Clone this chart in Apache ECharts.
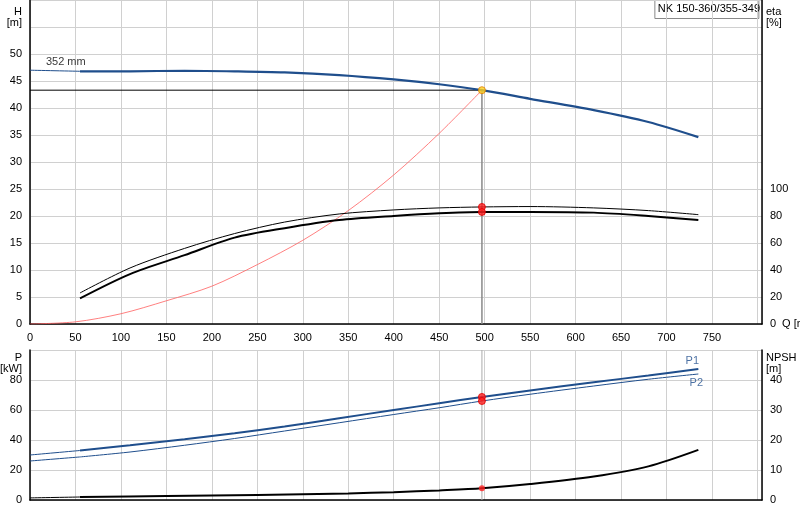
<!DOCTYPE html>
<html><head><meta charset="utf-8">
<script src="https://cdn.jsdelivr.net/npm/echarts@6/dist/echarts.min.js"></script>
<style>html,body{margin:0;background:#fff}#c{width:800px;height:520px}</style></head>
<body><div id="c"></div>
<script>
const hExt = [[0,47],[55,46.8]];
const hCurve = [[55,46.8],[110,46.8],[170,46.9],[225,46.8],[280,46.6],[340,46.1],[400,45.3],[450,44.4],[497,43.3],[550,41.7],[620,39.6],[680,37.4],[735,34.6]];
const etaThin = [[55,23],[110,41.5],[170,56],[225,67],[280,75.5],[340,81.5],[400,84.5],[450,86],[497,86.7],[550,87],[620,86],[680,84],[735,81]];
const etaThick = [[55,19],[110,37],[170,51],[225,64],[280,71],[340,77],[400,80],[450,82],[497,83],[550,83],[620,82.5],[680,80],[735,77]];
const system = [[0,0],[50,0.4],[100,1.9],[150,4.3],[200,7],[250,11],[300,15.5],[350,21],[400,27.6],[450,35.3],[497,43.3]];
const p1Ext = [[0,30],[55,33]];
const p1 = [[55,33],[110,36.5],[170,40.5],[225,44.5],[280,49],[340,54.5],[400,60],[450,64.5],[497,68.7],[550,73],[620,78.5],[680,83],[735,87.3]];
const p2Ext = [[0,26],[55,28.7]];
const p2 = [[55,28.7],[110,32],[170,36.5],[225,41],[280,46],[340,51.5],[400,57],[450,61.5],[497,66],[550,70.5],[620,76],[680,80.5],[735,84]];
const npshExt = [[0,0.7],[55,1.0]];
const npsh = [[55,1.0],[150,1.3],[250,1.7],[350,2.2],[400,2.6],[450,3.2],[497,3.9],[550,5.3],[620,7.8],[680,11.2],[735,16.7]];
const duty = {q:497, h:43.3, eta1:86.7, eta2:83, p1:68.7, p2:66, npsh:3.9};

const F = 'Liberation Sans, Arial, sans-serif';
const blue = '#1f4e8c';
const lab = {fontFamily:F,fontSize:11,color:'#000'};
const split = {show:true,lineStyle:{color:'#d0d0d0',width:1}};
const ax = {lineStyle:{color:'#000',width:1.5}};
function line(data,x,y,color,w,z){return {type:'line',data,xAxisIndex:x,yAxisIndex:y,showSymbol:false,smooth:0.3,lineStyle:{color,width:w},z:z||2,silent:true};}
function pt(data,x,y,color,s){return {type:'scatter',data,xAxisIndex:x,yAxisIndex:y,symbolSize:s||7,itemStyle:{color,borderColor:color==='#ffd21f'?'#e08000':'#e00000',borderWidth:1},z:10};}
const chart = echarts.init(document.getElementById('c'));
chart.setOption({
  animation:false,
  grid:[{left:30,right:38,top:0,bottom:196,outerBoundsMode:'none',containLabel:false},{left:30,right:38,top:350,bottom:20,outerBoundsMode:'none',containLabel:false}],
  xAxis:[
    {gridIndex:0,type:'value',min:0,max:805,interval:50,axisLine:ax,axisTick:{show:false},splitLine:split,
     axisLabel:Object.assign({},lab,{formatter:v=>v>750?'':v,margin:8}),name:'Q [m³/h]',nameLocation:'end',nameGap:-32,nameTextStyle:Object.assign({},lab,{padding:[30,0,0,0]})},
    {gridIndex:1,type:'value',min:0,max:805,interval:50,axisLine:ax,axisTick:{show:false},splitLine:split,axisLabel:{show:false}}
  ],
  yAxis:[
    {gridIndex:0,type:'value',min:0,max:60,interval:5,axisLine:Object.assign({show:true},ax),axisTick:{show:false},splitLine:split,
     axisLabel:Object.assign({},lab,{formatter:v=>v>50?'':v}),name:'H\n[m]',nameLocation:'end',nameGap:-28,nameTextStyle:Object.assign({},lab,{align:'right',padding:[0,8,0,0]})},
    {gridIndex:0,type:'value',min:0,max:240,interval:20,position:'right',axisLine:Object.assign({show:true},ax),axisTick:{show:false},splitLine:{show:false},
     axisLabel:Object.assign({},lab,{formatter:v=>v>100?'':v}),name:'eta\n[%]',nameLocation:'end',nameGap:-28,nameTextStyle:Object.assign({},lab,{align:'left',padding:[0,0,0,4]})},
    {gridIndex:1,type:'value',min:0,max:100,interval:20,axisLine:Object.assign({show:true},ax),axisTick:{show:false},splitLine:split,
     axisLabel:Object.assign({},lab,{formatter:v=>v>80?'':v}),name:'P\n[kW]',nameLocation:'end',nameGap:-28,nameTextStyle:Object.assign({},lab,{align:'right',padding:[0,8,0,0]})},
    {gridIndex:1,type:'value',min:0,max:50,interval:10,position:'right',axisLine:Object.assign({show:true},ax),axisTick:{show:false},splitLine:{show:false},
     axisLabel:Object.assign({},lab,{formatter:v=>v>40?'':v}),name:'NPSH\n[m]',nameLocation:'end',nameGap:-28,nameTextStyle:Object.assign({},lab,{align:'left',padding:[0,0,0,4]})}
  ],
  graphic:[{type:'group',right:40,top:0,children:[
    {type:'rect',shape:{x:0,y:0,width:104,height:18},style:{fill:'#fff',stroke:'#888',lineWidth:1}},
    {type:'text',x:3,y:3,style:{text:'NK 150-360/355-349',font:'11px '+F,fill:'#000'}}]}],
  series:[
    line(hExt,0,0,blue,1),
    line(hCurve,0,0,blue,2.2,3),
    line(system,0,0,'#ff6060',0.8),
    line(etaThin,0,1,'#000',1),
    line(etaThick,0,1,'#000',2),
    {type:'line',data:[[0,duty.h],[duty.q,duty.h]],xAxisIndex:0,yAxisIndex:0,showSymbol:false,lineStyle:{color:'#000',width:1},z:1},
    {type:'line',data:[[duty.q,0],[duty.q,duty.h]],xAxisIndex:0,yAxisIndex:0,showSymbol:false,lineStyle:{color:'#888',width:1.5},z:1},
    {type:'line',data:[[duty.q,0],[duty.q,100]],xAxisIndex:1,yAxisIndex:2,showSymbol:false,lineStyle:{color:'#aaa',width:1},z:1},
    pt([[duty.q,duty.eta1],[duty.q,duty.eta2]],0,1,'#ff2020'),
    pt([[duty.q,duty.h]],0,0,'#ffd21f'),
    {type:'scatter',data:[[12,48.5]],xAxisIndex:0,yAxisIndex:0,symbolSize:0,label:{show:true,formatter:'352 mm',position:'right',fontFamily:F,fontSize:11,color:'#000'}},
    line(p1Ext,1,2,blue,1),
    line(p1,1,2,blue,2),
    line(p2Ext,1,2,blue,1),
    line(p2,1,2,blue,1),
    line(npshExt,1,3,'#000',1),
    line(npsh,1,3,'#000',2),
    pt([[duty.q,duty.p1],[duty.q,duty.p2]],1,2,'#ff2020'),
    {type:'scatter',data:[[duty.q,duty.npsh]],xAxisIndex:1,yAxisIndex:3,symbolSize:6,itemStyle:{color:'#ff2020'},z:10},
    {type:'scatter',data:[[735,p1[p1.length-1][1]]],xAxisIndex:1,yAxisIndex:2,symbolSize:0,
     label:{show:true,formatter:'P1',position:'top',offset:[-6,2],fontFamily:F,fontSize:11,color:blue}},
    {type:'scatter',data:[[735,p2[p2.length-1][1]]],xAxisIndex:1,yAxisIndex:2,symbolSize:0,
     label:{show:true,formatter:'P2',position:'bottom',offset:[-2,-2],fontFamily:F,fontSize:11,color:blue}}
  ]
});
</script></body></html>
